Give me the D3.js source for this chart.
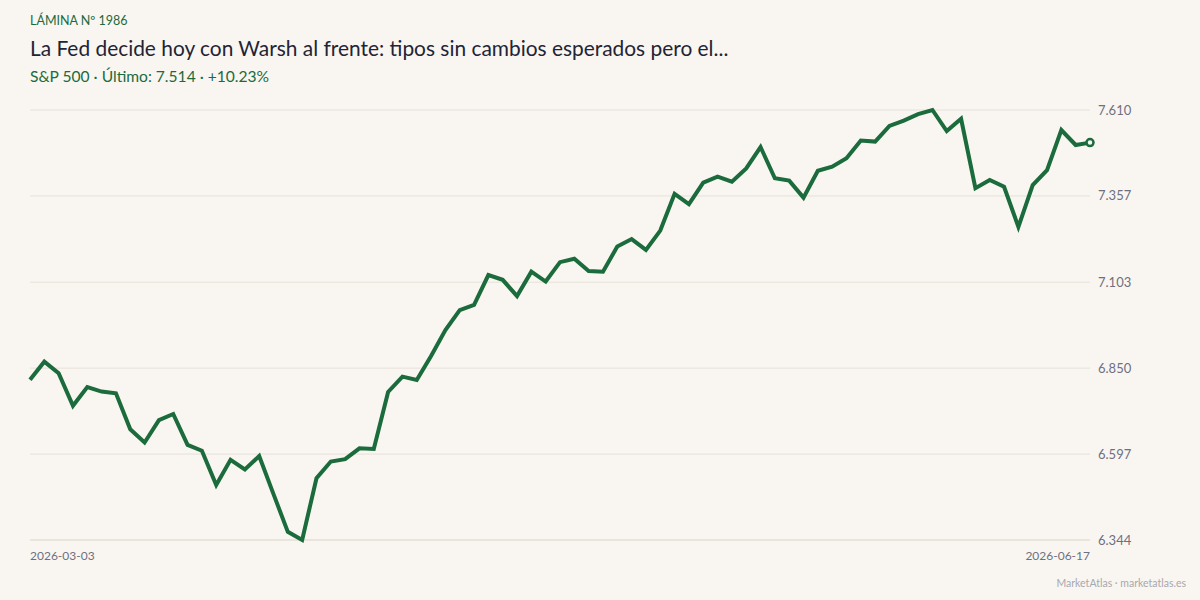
<!DOCTYPE html>
<html>
<head>
<meta charset="utf-8">
<script src="https://cdn.jsdelivr.net/npm/d3@7"></script>
<style>
  body { margin: 0; background: #f9f6f1; }
  svg { display: block; font-family: Lato, "Open Sans", sans-serif; }
</style>
</head>
<body>
<svg id="chart" width="1200" height="600"></svg>
<script>
// Data: S&P 500 closes, one per trading day.
const closes = [
  6.816, 6.869, 6.835, 6.739, 6.794, 6.781, 6.776, 6.670, 6.631, 6.697,
  6.715, 6.624, 6.607, 6.506, 6.580, 6.552, 6.591, 6.479, 6.368, 6.344,
  6.526, 6.575, 6.582, 6.614, 6.612, 6.780, 6.825, 6.815, 6.886, 6.962,
  7.021, 7.036, 7.124, 7.110, 7.062, 7.134, 7.105, 7.162, 7.172, 7.136,
  7.134, 7.208, 7.230, 7.198, 7.255, 7.363, 7.333, 7.396, 7.414, 7.399,
  7.438, 7.501, 7.409, 7.402, 7.352, 7.431, 7.443, 7.468, 7.520, 7.517,
  7.563, 7.579, 7.598, 7.610, 7.548, 7.584, 7.380, 7.404, 7.384, 7.266,
  7.389, 7.433, 7.551, 7.507, 7.514
];
const dateLabels = ["2026-03-03", "2026-06-17"];
const yTicks = [6.344, 6.597, 6.850, 7.103, 7.357, 7.610];

const kicker = "LÁMINA Nº 1986";
const title = "La Fed decide hoy con Warsh al frente: tipos sin cambios esperados pero el...";
const subtitle = "S&P 500 · Último: 7.514 · +10.23%";
const footer = "MarketAtlas · marketatlas.es";

const green = "#1b6b3c";
const svg = d3.select("#chart");
const W = 1200, H = 600;
const m = {left: 30, right: 110, top: 110, bottom: 60};

svg.append("rect").attr("width", W).attr("height", H).attr("fill", "#f9f6f1");

const x = d3.scaleLinear()
  .domain([0, closes.length - 1])
  .range([m.left, W - m.right]);
const y = d3.scaleLinear()
  .domain([yTicks[0], yTicks[yTicks.length - 1]])
  .range([H - m.bottom, m.top]);

// gridlines
svg.append("g")
  .selectAll("line")
  .data(yTicks)
  .join("line")
    .attr("x1", m.left)
    .attr("x2", W - m.right)
    .attr("y1", d => y(d))
    .attr("y2", d => y(d))
    .attr("stroke", (d, i) => i == 0 ? "#d9d3c9" : "#e6e1d9")
    .attr("stroke-width", 1);

// y labels, right side
const fmt = d => d.toFixed(3);
svg.append("g")
  .selectAll("text")
  .data(yTicks)
  .join("text")
    .attr("x", W - m.right + 8)
    .attr("y", d => y(d))
    .attr("dy", "0.35em")
    .attr("fill", "#6e7080")
    .attr("font-size", 13)
    .text(fmt);

// x labels at the two ends
svg.append("g")
  .selectAll("text")
  .data(dateLabels)
  .join("text")
    .attr("x", (d, i) => i == 0 ? x(0) : x(closes.length - 1))
    .attr("y", H - m.bottom + 20)
    .attr("text-anchor", (d, i) => i == 0 ? "start" : "end")
    .attr("fill", "#6e7080")
    .attr("font-size", 12)
    .text(d => d);

// line
const line = d3.line()
  .x((d, i) => x(i))
  .y(d => y(d));

svg.append("path")
  .datum(closes)
  .attr("d", line)
  .attr("fill", "none")
  .attr("stroke", green)
  .attr("stroke-width", 4)
  .attr("stroke-linejoin", "miter")
  .attr("stroke-linecap", "butt");

// last point marker
const last = closes.length - 1;
svg.append("circle")
  .attr("cx", x(last))
  .attr("cy", y(closes[last]))
  .attr("r", 3.5)
  .attr("fill", "#f9f6f1")
  .attr("stroke", green)
  .attr("stroke-width", 2.5);

// header texts
svg.append("text")
  .attr("x", 30).attr("y", 25)
  .attr("fill", green)
  .attr("font-size", 12.5)
  .text(kicker);
svg.append("text")
  .attr("x", 30).attr("y", 56)
  .attr("fill", "#222436")
  .attr("font-size", 20.9)
  .text(title);
svg.append("text")
  .attr("x", 30).attr("y", 82)
  .attr("fill", green)
  .attr("font-size", 15.6)
  .text(subtitle);

// footer
svg.append("text")
  .attr("x", W - 14).attr("y", H - 13)
  .attr("text-anchor", "end")
  .attr("fill", "#a8a8ad")
  .attr("font-size", 10.5)
  .text(footer);
</script>
</body>
</html>
